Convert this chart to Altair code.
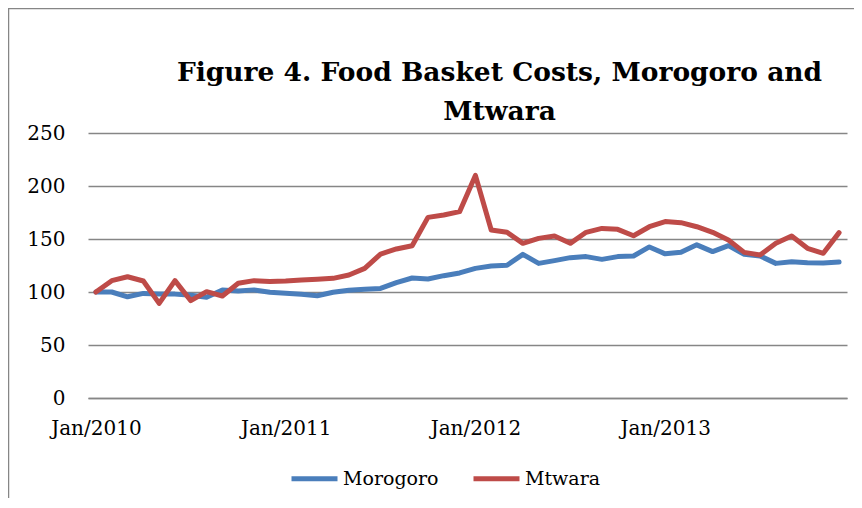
import altair as alt
import pandas as pd

month_names = ["Jan", "Feb", "Mar", "Apr", "May", "Jun",
               "Jul", "Aug", "Sep", "Oct", "Nov", "Dec"]
years = [2010, 2011, 2012, 2013]
months = [f"{m}/{y}" for y in years for m in month_names]

morogoro = [100, 100, 95.5, 98.7, 98, 98, 96.9, 95, 101.9, 101, 102, 99.7,
            98.8, 97.8, 96.5, 99.7, 101.6, 102.5, 103.4, 108.8, 113.2, 112.3, 115.4, 118,
            122.3, 124.5, 125.2, 135.5, 127, 129.6, 132.4, 133.4, 130.8, 133.4, 134, 142.5,
            136, 137.4, 144.5, 138.1, 143.7, 135.5, 134, 127, 128.6, 127.7, 127.4, 128.3]

mtwara = [100, 110.7, 114.4, 110.4, 89.3, 110.7, 91.8, 100.3, 96.2, 108.2, 110.7, 110,
          110.4, 111.3, 112, 112.9, 116, 122.3, 135.8, 140.6, 143.7, 170.4, 172.6, 175.8,
          210, 158.5, 156.3, 145.9, 150.6, 152.8, 145.9, 156.3, 160, 159.1, 153.1, 161.6,
          166.4, 165.4, 161.6, 156.3, 149, 137.4, 134.9, 145.9, 152.8, 141.2, 136.5, 156]

series_names = ["Morogoro", "Mtwara"]
series_colors = ["#4A7EBB", "#BE4B48"]
y_ticks = [0, 50, 100, 150, 200, 250]
x_ticks = ["Jan/2010", "Jan/2011", "Jan/2012", "Jan/2013"]

rows = []
for name, vals in zip(series_names, [morogoro, mtwara]):
    for m, v in zip(months, vals):
        rows.append({"month": m, "value": v, "series": name})
df = pd.DataFrame(rows)

FONT = "DejaVu Serif"

lines = alt.Chart(df).mark_line(strokeWidth=5, strokeJoin="round", strokeCap="round").encode(
    x=alt.X("month:O", sort=months, scale=alt.Scale(domain=months),
            axis=alt.Axis(values=x_ticks, labelAngle=0, ticks=False, domain=True,
                          domainColor="#868686", domainWidth=1.3, grid=False,
                          labelPadding=20, labelFont=FONT, labelFontSize=20,
                          labelColor="black", title=None)),
    y=alt.Y("value:Q", scale=alt.Scale(domain=[0, 250], nice=False),
            axis=alt.Axis(values=y_ticks, grid=True, gridColor="#868686", gridWidth=1.3,
                          domain=False, ticks=False, labelPadding=23, labelFont=FONT,
                          labelFontSize=20, labelColor="black", title=None)),
    color=alt.Color("series:N", scale=alt.Scale(domain=series_names, range=series_colors),
                    legend=alt.Legend(title=None, orient="none", legendX=201, legendY=320,
                                      direction="horizontal", symbolType="stroke",
                                      symbolSize=2116, symbolStrokeWidth=5,
                                      labelFont=FONT, labelFontSize=19, labelColor="black",
                                      labelOffset=3, columnPadding=24)),
)

frame_df = pd.DataFrame({"k": [0]})
left_border = alt.Chart(frame_df).mark_rule(color="#868686", strokeWidth=1.5).encode(
    x=alt.value(-79.5), y=alt.value(-125), y2=alt.value(367))
top_border = alt.Chart(frame_df).mark_rule(color="#868686", strokeWidth=1.5).encode(
    x=alt.value(-80), x2=alt.value(766), y=alt.value(-124.5))

chart = alt.layer(lines, left_border, top_border).properties(
    width=759,
    height=265,
    autosize=alt.AutoSizeParams(type="none"),
    padding={"left": 80, "top": 125, "right": 7, "bottom": 100},
    title=alt.TitleParams(text=["Figure 4. Food Basket Costs, Morogoro and", "Mtwara"],
                          font=FONT, fontSize=26.5, fontWeight="bold", color="black",
                          anchor="middle", frame="group", dx=32, dy=128, offset=10,
                          lineHeight=39),
).configure_view(strokeWidth=0)

chart.save("out.html", embed_options={"renderer": "svg", "actions": False})
